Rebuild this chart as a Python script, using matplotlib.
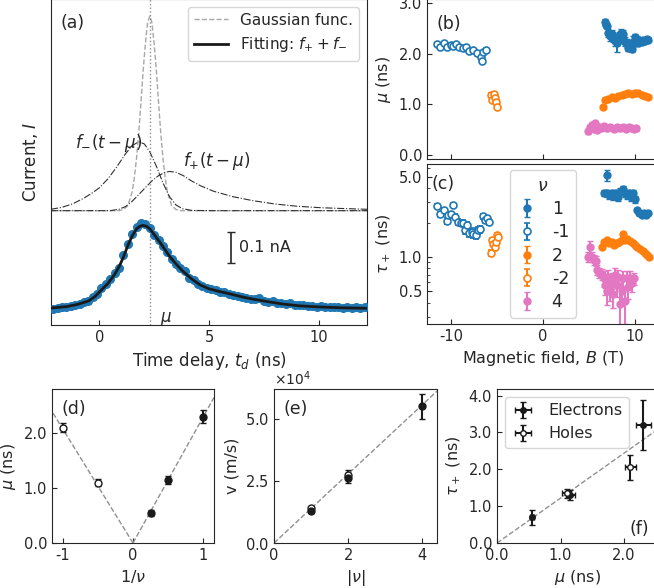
import numpy as np
import matplotlib.pyplot as plt
from matplotlib.ticker import LogLocator, NullFormatter, FixedLocator, FixedFormatter, ScalarFormatter

plt.rcParams['axes.unicode_minus'] = False
plt.rcParams['font.size'] = 10
plt.rcParams['text.color'] = '#262626'
plt.rcParams['axes.labelcolor'] = '#262626'
plt.rcParams['axes.edgecolor'] = '#262626'
plt.rcParams['xtick.color'] = '#262626'
plt.rcParams['ytick.color'] = '#262626'
plt.rcParams['xtick.direction'] = 'in'
plt.rcParams['ytick.direction'] = 'in'

BLUE = '#1f77b4'
ORANGE = '#ff7f0e'
PINK = '#e377c2'

# ---- (a) time trace ----
t_data = [-2.1, -1.9, -1.7, -1.5, -1.3, -1.1, -0.9, -0.7, -0.5, -0.3, -0.1, 0.1, 0.3, 0.5,
          0.7, 0.9, 1.1, 1.3, 1.5, 1.7, 1.9, 2.1, 2.3, 2.5, 2.7, 2.9, 3.1, 3.3, 3.5, 3.7,
          3.9, 4.1, 4.3, 4.5, 4.7, 4.9, 5.1, 5.3, 5.5, 5.7, 5.9, 6.1, 6.3, 6.5, 6.7, 6.9,
          7.1, 7.3, 7.5, 7.7, 7.9, 8.1, 8.3, 8.5, 8.7, 8.9, 9.1, 9.3, 9.5, 9.7, 9.9, 10.1,
          10.3, 10.5, 10.7, 10.9, 11.1, 11.3, 11.5, 11.7, 11.9, 12.1]
i_data = [0.005, 0.007, 0.010, 0.012, 0.014, 0.019, 0.022, 0.027, 0.031, 0.046, 0.058, 0.080,
          0.094, 0.112, 0.132, 0.150, 0.196, 0.236, 0.272, 0.300, 0.311, 0.309, 0.293, 0.270,
          0.251, 0.230, 0.207, 0.184, 0.166, 0.150, 0.141, 0.116, 0.109, 0.094, 0.087, 0.080,
          0.074, 0.072, 0.066, 0.064, 0.058, 0.053, 0.050, 0.047, 0.043, 0.041, 0.039, 0.042,
          0.033, 0.028, 0.031, 0.025, 0.024, 0.021, 0.025, 0.018, 0.017, 0.019, 0.013, 0.016,
          0.012, 0.014, 0.010, 0.012, 0.009, 0.012, 0.008, 0.011, 0.008, 0.010, 0.007, 0.009]

t_fit = [-2.2, -1.5, -1.0, -0.5, -0.2, 0.1, 0.4, 0.7, 0.9, 1.1, 1.3, 1.5, 1.7, 1.85, 2.0,
         2.15, 2.3, 2.5, 2.7, 2.9, 3.2, 3.5, 3.8, 4.2, 4.6, 5.0, 5.5, 6.0, 6.5, 7.0, 7.6,
         8.3, 9.1, 10.0, 11.0, 12.2]
i_fit = [0.007, 0.012, 0.020, 0.032, 0.048, 0.072, 0.096, 0.128, 0.155, 0.190, 0.232, 0.266,
         0.292, 0.301, 0.304, 0.301, 0.292, 0.271, 0.250, 0.228, 0.193, 0.165, 0.140, 0.112,
         0.090, 0.076, 0.066, 0.057, 0.047, 0.039, 0.031, 0.022, 0.015, 0.011, 0.008, 0.006]

t_gauss = [-2.2, 0.9, 1.1, 1.3, 1.5, 1.6, 1.7, 1.8, 1.9, 2.0, 2.1, 2.2, 2.3, 2.4, 2.5, 2.6,
           2.7, 2.8, 2.9, 3.0, 3.1, 3.3, 3.5, 3.7, 12.2]
i_gauss = [0.0, 0.0, 0.004, 0.018, 0.068, 0.12, 0.19, 0.28, 0.39, 0.505, 0.60, 0.675, 0.70,
           0.675, 0.60, 0.505, 0.39, 0.28, 0.19, 0.12, 0.068, 0.018, 0.004, 0.0, 0.0]

t_fminus = [-2.2, -1.7, -1.2, -0.7, -0.3, 0.0, 0.4, 0.8, 1.2, 1.5, 1.8, 2.05, 2.3, 2.6, 2.9,
            3.2, 3.5, 3.8, 4.2, 5.0, 12.2]
i_fminus = [0.005, 0.012, 0.025, 0.045, 0.065, 0.082, 0.115, 0.158, 0.205, 0.234, 0.248,
            0.240, 0.212, 0.160, 0.100, 0.050, 0.020, 0.007, 0.001, 0.0, 0.0]

t_fplus = [-2.2, 0.5, 0.9, 1.2, 1.5, 1.8, 2.1, 2.4, 2.7, 3.0, 3.2, 3.5, 3.85, 4.2, 4.6, 5.2,
           6.1, 7.0, 8.0, 9.0, 10.0, 11.0, 12.2]
i_fplus = [0.0, 0.0, 0.005, 0.015, 0.034, 0.058, 0.083, 0.107, 0.126, 0.138, 0.141, 0.138,
           0.125, 0.107, 0.090, 0.070, 0.050, 0.036, 0.024, 0.016, 0.011, 0.008, 0.005]

mu_a = 2.3

# ---- (b), (c) field dependence ----
B_m1 = [-11.5, -11.2, -10.76, -10.4, -10.04, -9.75, -9.46, -9.09, -8.73, -8.37, -8.0,
        -7.57, -7.14, -6.78, -6.67, -6.48, -6.2]
mu_m1 = [2.19, 2.14, 2.21, 2.13, 2.18, 2.16, 2.19, 2.14, 2.11, 2.13, 2.05, 2.08, 2.01,
         1.93, 1.85, 2.03, 2.08]
B_m2 = [-5.69, -5.58, -5.33, -5.22, -5.11, -4.96]
mu_m2 = [1.19, 1.09, 1.21, 1.12, 1.04, 0.94]
B_p1 = [6.74, 6.85, 6.92, 7.1, 7.28, 7.47, 7.64, 7.83, 8.01, 8.3, 8.44, 8.66, 8.73, 8.91,
        9.1, 9.28, 9.46, 9.64, 9.82, 10.0, 10.18, 10.36, 10.54, 10.73, 10.9, 11.09, 11.27, 11.45]
mu_p1 = [2.62, 2.57, 2.54, 2.40, 2.34, 2.38, 2.31, 2.26, 2.21, 2.34, 2.40, 2.38, 2.29, 2.24,
         2.21, 2.11, 2.13, 2.09, 2.24, 2.33, 2.29, 2.21, 2.26, 2.24, 2.28, 2.26, 2.29, 2.28]
mu_p1_err = [0.06, 0.06, 0.06, 0.08, 0.08, 0.08, 0.08, 0.1, 0.18, 0.08, 0.08, 0.08, 0.08,
             0.08, 0.08, 0.06, 0.06, 0.06, 0.1, 0.06, 0.05, 0.05, 0.05, 0.05, 0.04, 0.04, 0.04, 0.04]
B_p2 = [6.49, 6.74, 7.1, 7.47, 7.83, 8.19, 8.55, 8.91, 9.28, 9.64, 10.0, 10.36, 10.73,
        11.09, 11.45]
mu_p2 = [0.94, 1.09, 1.10, 1.14, 1.12, 1.17, 1.19, 1.21, 1.22, 1.21, 1.23, 1.22, 1.19, 1.17, 1.14]
B_p4 = [4.93, 5.1, 5.3, 5.5, 5.7, 5.9, 6.1, 6.3, 6.6, 7.0, 7.3, 7.7, 8.0, 8.4, 8.7, 9.0,
        9.3, 9.6, 9.9, 10.1]
mu_p4 = [0.47, 0.55, 0.60, 0.52, 0.63, 0.50, 0.56, 0.53, 0.57, 0.53, 0.55, 0.52, 0.55, 0.53,
         0.55, 0.52, 0.55, 0.54, 0.52, 0.53]

Bc_m1 = [-11.49, -11.2, -10.76, -10.47, -10.29, -10.04, -9.75, -9.57, -9.2, -8.95, -8.66,
         -8.48, -8.22, -8.0, -7.75, -7.57, -7.28, -7.03, -6.85, -6.55, -6.3, -6.05, -5.83]
tau_m1 = [2.79, 2.37, 2.57, 2.07, 2.33, 2.37, 2.85, 2.25, 2.04, 1.99, 1.97, 1.72, 1.90, 1.61,
          1.66, 1.59, 1.56, 1.72, 1.75, 2.28, 2.10, 2.18, 2.04]
Bc_m2 = [-5.69, -5.58, -5.4, -5.22, -5.11, -4.96, -4.85]
tau_m2 = [1.09, 1.41, 1.30, 1.23, 1.36, 1.56, 1.50]
Bc_p1 = [6.99, 6.63, 6.92, 7.21, 7.47, 7.64, 7.93, 8.19, 8.37, 8.55, 8.73, 8.91, 9.1, 9.39,
         9.53, 9.75, 10.0, 10.18, 10.47, 10.73, 10.98, 11.2, 11.45]
tau_p1 = [5.2, 3.64, 3.6, 3.48, 3.6, 3.41, 3.64, 3.36, 3.72, 3.8, 3.9, 3.6, 3.48, 3.64, 3.36,
          3.6, 3.19, 2.57, 2.44, 2.33, 2.41, 2.33, 2.44]
tau_p1_err = [0.6, 0.25, 0.25, 0.25, 0.25, 0.25, 0.25, 0.25, 0.25, 0.25, 0.25, 0.25, 0.25,
              0.25, 0.25, 0.25, 0.2, 0.12, 0.12, 0.1, 0.1, 0.1, 0.1]
Bc_p2 = [6.38, 6.63, 6.92, 7.21, 7.47, 7.72, 8.01, 8.3, 8.55, 8.66, 8.91, 9.17, 9.46, 9.75,
         10.0, 10.25, 10.54, 10.84, 11.09, 11.34, 11.49]
tau_p2 = [1.22, 1.36, 1.41, 1.32, 1.36, 1.27, 1.32, 1.36, 1.41, 1.59, 1.41, 1.43, 1.39, 1.33,
          1.27, 1.22, 1.17, 1.13, 1.09, 1.04, 1.01]
Bc_p4 = [4.93, 5.11, 5.3, 5.55, 5.76, 5.82, 6.1, 6.36, 6.6, 6.72, 6.9, 7.1, 7.28, 7.47, 7.64,
         7.83, 8.0, 8.19, 8.37, 8.55, 8.73, 8.91, 9.1, 9.28, 9.46, 9.64, 9.9]
tau_p4 = [1.0, 1.22, 1.0, 0.95, 0.93, 0.77, 0.73, 0.71, 0.65, 0.57, 0.5, 0.67, 0.53, 0.63,
          0.48, 0.7, 0.57, 0.67, 0.39, 0.5, 0.65, 0.41, 0.65, 0.55, 0.65, 0.59, 0.65]
tau_p4_err = [0.1, 0.15, 0.1, 0.1, 0.1, 0.08, 0.08, 0.08, 0.1, 0.1, 0.12, 0.1, 0.12, 0.1,
              0.12, 0.1, 0.12, 0.1, 0.15, 0.12, 0.1, 0.15, 0.1, 0.12, 0.1, 0.1, 0.08]

# ---- (d), (e), (f) summary ----
inv_nu_e = [0.25, 0.5, 1.0]
mu_e = [0.55, 1.15, 2.3]
mu_e_err = [0.05, 0.07, 0.12]
inv_nu_h = [-1.0, -0.5]
mu_h = [2.1, 1.1]
mu_h_err = [0.08, 0.07]
slope_d_e = 2.3
slope_d_h = -2.08

nu_e = [1, 2, 4]
v_e = [1.3e4, 2.6e4, 5.5e4]
v_e_err = [0.1e4, 0.2e4, 0.5e4]
nu_h = [1, 2]
v_h = [1.4e4, 2.75e4]
v_h_err = [0.1e4, 0.2e4]
slope_e = 1.39e4

muf_e = [0.55, 1.15, 2.3]
muf_e_err = [0.03, 0.07, 0.12]
tauf_e = [0.7, 1.3, 3.2]
tauf_e_err = [0.2, 0.13, 0.67]
muf_h = [1.1, 2.1]
muf_h_err = [0.07, 0.08]
tauf_h = [1.35, 2.05]
tauf_h_err = [0.12, 0.35]
slope_f = 1.22

fig = plt.figure(figsize=(6.54, 5.88), dpi=100)

# (a)
ax = fig.add_axes([0.078, 0.4473, 0.4832, 0.5544])
off = 0.357
ax.plot(t_gauss, np.array(i_gauss) + off, '--', color='#a8a8a8', lw=1.0, label='Gaussian func.')
ax.plot(t_fminus, np.array(i_fminus) + off, '-.', color='#303030', lw=0.8)
ax.plot(t_fplus, np.array(i_fplus) + off, '-.', color='#303030', lw=0.8)
ax.axvline(mu_a, color='#909090', ls=':', lw=1.0)
ax.plot(t_data, i_data, 'o', color=BLUE, ms=5.5, zorder=3)
ax.plot(t_fit, i_fit, '-', color='#1a1a1a', lw=2.0, zorder=4, label='Fitting: $f_{+} + f_{-}$')
ax.errorbar([6.0], [0.225], yerr=[0.055], color='#262626', capsize=3, lw=1.2)
ax.text(6.35, 0.225, '0.1 nA', fontsize=11.5, va='center')
ax.text(2.75, -0.045, r'$\mu$', fontsize=12)
ax.text(-1.1, 0.6, r'$f_{-}(t-\mu)$', fontsize=12, va='center')
ax.text(3.8, 0.535, r'$f_{+}(t-\mu)$', fontsize=12, va='center')
ax.text(0.03, 0.955, '(a)', transform=ax.transAxes, fontsize=12.5, va='top')
ax.set_xlim(-2.2, 12.2)
ax.set_ylim(-0.054, 1.118)
ax.set_yticks([])
ax.set_xticks([0, 5, 10])
ax.set_xlabel('Time delay, $t_d$ (ns)', fontsize=12)
ax.set_ylabel('Current, $I$', fontsize=12, labelpad=8)
ax.legend(loc='upper right', fontsize=11, handlelength=2.2)

# (b)
axb = fig.add_axes([0.6529, 0.7296, 0.3547, 0.2721])
ms = 5
axb.errorbar(B_m1, mu_m1, yerr=0.03, fmt='o', color=BLUE, mfc='white', ms=ms, mew=1.2, capsize=2)
axb.errorbar(B_m2, mu_m2, yerr=0.03, fmt='o', color=ORANGE, mfc='white', ms=ms, mew=1.2, capsize=2)
axb.errorbar(B_p1, mu_p1, yerr=mu_p1_err, fmt='o', color=BLUE, ms=ms, capsize=2)
axb.errorbar(B_p2, mu_p2, yerr=0.03, fmt='o', color=ORANGE, ms=ms, capsize=2)
axb.errorbar(B_p4, mu_p4, yerr=0.05, fmt='o', color=PINK, ms=ms, capsize=2)
axb.set_xlim(-12.6, 12.6)
axb.set_ylim(-0.08, 3.08)
axb.set_xticks([-10, 0, 10])
axb.set_xticklabels([])
axb.set_yticks([0, 1, 2, 3])
axb.set_yticklabels(['0.0', '1.0', '2.0', '3.0'])
axb.set_ylabel(r'$\mu$ (ns)', fontsize=11.5)
axb.text(0.04, 0.9, '(b)', transform=axb.transAxes, fontsize=12.5, va='top')

# (c)
axc = fig.add_axes([0.6529, 0.449, 0.3547, 0.2721])
h1 = axc.errorbar(Bc_p1, tau_p1, yerr=tau_p1_err, fmt='o', color=BLUE, ms=ms, capsize=2, label='1')
h2 = axc.errorbar(Bc_m1, tau_m1, yerr=0.12, fmt='o', color=BLUE, mfc='white', ms=ms, mew=1.2,
                  capsize=2, label='-1')
h3 = axc.errorbar(Bc_p2, tau_p2, yerr=0.04, fmt='o', color=ORANGE, ms=ms, capsize=2, label='2')
h4 = axc.errorbar(Bc_m2, tau_m2, yerr=0.06, fmt='o', color=ORANGE, mfc='white', ms=ms, mew=1.2,
                  capsize=2, label='-2')
h5 = axc.errorbar(Bc_p4, tau_p4, yerr=tau_p4_err, fmt='o', color=PINK, ms=ms, capsize=2, label='4')
axc.set_yscale('log')
axc.set_xlim(-12.6, 12.6)
axc.set_ylim(0.26, 6.5)
axc.yaxis.set_major_locator(FixedLocator([0.5, 1.0, 5.0]))
axc.yaxis.set_major_formatter(FixedFormatter(['0.5', '1.0', '5.0']))
axc.yaxis.set_minor_locator(LogLocator(subs=np.arange(2, 10)))
axc.yaxis.set_minor_formatter(NullFormatter())
axc.set_xticks([-10, 0, 10])
axc.set_xlabel('Magnetic field, $B$ (T)', fontsize=11.5)
axc.set_ylabel(r'$\tau_+$ (ns)', fontsize=11.5)
axc.text(0.02, 0.93, '(c)', transform=axc.transAxes, fontsize=12.5, va='top')
axc.legend(handles=[h1, h2, h3, h4, h5], title=r'$\nu$', loc='center',
           bbox_to_anchor=(0.5, 0.5), fontsize=12.5, title_fontsize=12.5,
           handlelength=1.2, labelspacing=0.3, borderpad=0.4)

# (d)
axd = fig.add_axes([0.0795, 0.0765, 0.2477, 0.2619])
axd.plot([0, 1.15], [0, slope_d_e * 1.15], '--', color='#909090', lw=1)
axd.plot([0, -1.15], [0, slope_d_h * -1.15], '--', color='#909090', lw=1)
axd.errorbar(inv_nu_e, mu_e, yerr=mu_e_err, fmt='o', color='#1a1a1a', ms=5, capsize=2)
axd.errorbar(inv_nu_h, mu_h, yerr=mu_h_err, fmt='o', color='#1a1a1a', mfc='white', ms=5, capsize=2)
axd.set_xlim(-1.15, 1.15)
axd.set_ylim(0, 2.8)
axd.set_xticks([-1, 0, 1])
axd.set_yticks([0, 1, 2])
axd.set_yticklabels(['0.0', '1.0', '2.0'])
axd.set_xlabel(r'1/$\nu$', fontsize=11.5)
axd.set_ylabel(r'$\mu$ (ns)', fontsize=11.5)
axd.text(0.06, 0.93, '(d)', transform=axd.transAxes, fontsize=12.5, va='top')

# (e)
axe = fig.add_axes([0.419, 0.0765, 0.2492, 0.2619])
axe.plot([0, 4.4], [0, slope_e * 4.4], '--', color='#909090', lw=1)
axe.errorbar(nu_h, v_h, yerr=v_h_err, fmt='o', color='#1a1a1a', mfc='white', ms=5, capsize=2)
axe.errorbar(nu_e, v_e, yerr=v_e_err, fmt='o', color='#1a1a1a', ms=5, capsize=2)
axe.set_xlim(0, 4.4)
axe.set_ylim(0, 6.2e4)
axe.set_xticks([0, 2, 4])
axe.set_yticks([0, 2.5e4, 5e4])
fmt = ScalarFormatter(useMathText=True)
fmt.set_powerlimits((0, 0))
axe.yaxis.set_major_formatter(fmt)
axe.set_xlabel(r'|$\nu$|', fontsize=11.5)
axe.set_ylabel('v (m/s)', fontsize=11.5)
axe.text(0.06, 0.93, '(e)', transform=axe.transAxes, fontsize=12.5, va='top')

# (f)
axf = fig.add_axes([0.76, 0.0765, 0.2477, 0.2619])
axf.plot([0, 2.6], [0, slope_f * 2.6], '--', color='#909090', lw=1)
axf.errorbar(muf_e, tauf_e, xerr=muf_e_err, yerr=tauf_e_err, fmt='o', color='#1a1a1a', ms=4,
             capsize=2, label='Electrons')
axf.errorbar(muf_h, tauf_h, xerr=muf_h_err, yerr=tauf_h_err, fmt='o', color='#1a1a1a',
             mfc='white', ms=4, capsize=2, label='Holes')
axf.set_xlim(0, 2.55)
axf.set_ylim(0, 4.18)
axf.set_xticks([0, 1, 2])
axf.set_xticklabels(['0.0', '1.0', '2.0'])
axf.set_yticks([0, 1, 2, 3, 4])
axf.set_yticklabels(['0.0', '1.0', '2.0', '3.0', '4.0'])
axf.set_xlabel(r'$\mu$ (ns)', fontsize=11.5)
axf.set_ylabel(r'$\tau_+$ (ns)', fontsize=11.5)
axf.text(0.82, 0.06, '(f)', transform=axf.transAxes, fontsize=12.5)
axf.legend(loc='upper left', fontsize=11.5, handlelength=1.5)

for a in [ax, axb, axc, axd, axe, axf]:
    a.tick_params(labelsize=10.5)

fig.savefig('out.png', dpi=100)
